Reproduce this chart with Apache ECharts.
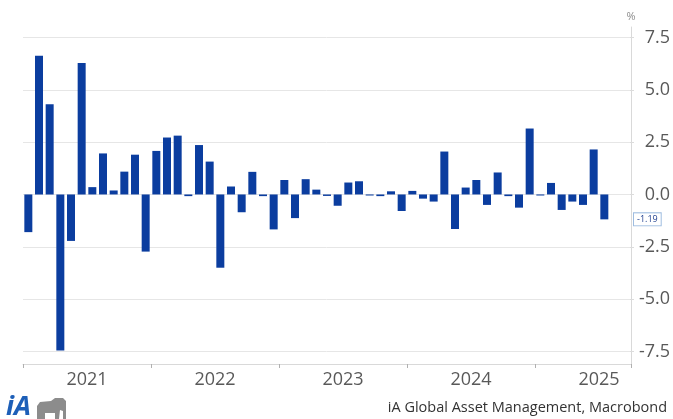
<!DOCTYPE html>
<html><head><meta charset="utf-8">
<script src="https://cdn.jsdelivr.net/npm/echarts@6/dist/echarts.min.js"></script>
<style>html,body{margin:0;padding:0;background:#fff}#c{width:673px;height:419px}</style>
</head><body><div id="c"></div>
<script>
// Monthly categories (axis runs two months past the last observation)
const months = [
  '2021-01','2021-02','2021-03','2021-04','2021-05','2021-06','2021-07','2021-08','2021-09','2021-10','2021-11','2021-12',
  '2022-01','2022-02','2022-03','2022-04','2022-05','2022-06','2022-07','2022-08','2022-09','2022-10','2022-11','2022-12',
  '2023-01','2023-02','2023-03','2023-04','2023-05','2023-06','2023-07','2023-08','2023-09','2023-10','2023-11','2023-12',
  '2024-01','2024-02','2024-03','2024-04','2024-05','2024-06','2024-07','2024-08','2024-09','2024-10','2024-11','2024-12',
  '2025-01','2025-02','2025-03','2025-04','2025-05','2025-06','2025-07','2025-08','2025-09'
];
// Monthly change, %
const values = [
  -1.80, 6.63, 4.31, -7.46, -2.22, 6.28, 0.35, 1.96, 0.19, 1.09, 1.90, -2.73,
  2.08, 2.72, 2.81, -0.08, 2.36, 1.57, -3.50, 0.38, -0.85, 1.08, -0.08, -1.67,
  0.69, -1.13, 0.73, 0.23, -0.07, -0.54, 0.57, 0.63, -0.05, -0.08, 0.15, -0.79,
  0.17, -0.20, -0.34, 2.05, -1.65, 0.33, 0.69, -0.50, 1.05, -0.08, -0.63, 3.15,
  -0.05, 0.55, -0.74, -0.34, -0.50, 2.15, -1.19
];
const yTicks = [-7.5, -5.0, -2.5, 0.0, 2.5, 5.0, 7.5];
const sourceText = 'iA Global Asset Management, Macrobond';

const FONT = '"Open Sans", "Noto Sans", sans-serif';
const chart = echarts.init(document.getElementById('c'), null, {renderer: 'canvas'});
const last = values[values.length - 1];

chart.setOption({
  animation: false,
  backgroundColor: '#ffffff',
  textStyle: {fontFamily: FONT},
  grid: [
    {left: 23, right: 42, top: 27, bottom: 55},
    {left: 23, right: 42, top: 37.5, bottom: 67.5}
  ],
  xAxis: [
    {
      type: 'category', gridIndex: 0, data: months, boundaryGap: true,
      axisLine: {show: true, onZero: false, lineStyle: {color: '#d9d9d9', width: 1}},
      axisTick: {show: true, interval: (i) => i % 12 === 0, length: 4, lineStyle: {color: '#b0b0b0'}},
      axisLabel: {
        interval: (i) => i % 12 === 6,
        formatter: (v) => v.slice(0, 4),
        fontSize: 18, color: '#595959', fontFamily: FONT, margin: 7,
        padding: [0, 10.66, 0, 0]
      },
      splitLine: {show: false}
    },
    {type: 'category', gridIndex: 1, data: months, show: false}
  ],
  yAxis: [
    {
      type: 'value', gridIndex: 0, position: 'right', min: -8.1, max: 8.0,
      name: '%', nameLocation: 'end', nameGap: 5,
      nameTextStyle: {color: '#8c8c8c', fontSize: 11, fontFamily: FONT},
      axisLine: {show: true, lineStyle: {color: '#d9d9d9'}},
      axisTick: {show: false}, axisLabel: {show: false}, splitLine: {show: false}
    },
    {
      type: 'value', gridIndex: 1, position: 'right',
      min: yTicks[0], max: yTicks[yTicks.length - 1], interval: 2.5,
      axisLine: {show: false},
      axisTick: {show: true, length: 4, lineStyle: {color: '#dcdcdc'}},
      axisLabel: {
        align: 'right', margin: 40, fontSize: 18, color: '#595959', fontFamily: FONT,
        formatter: (v) => v.toFixed(1)
      },
      splitLine: {show: true, lineStyle: {color: '#e6e6e6', width: 1}}
    }
  ],
  series: [{
    type: 'bar', xAxisIndex: 0, yAxisIndex: 0, data: values,
    barWidth: 8,
    itemStyle: {color: '#0b3d9f'},
    markLine: {
      silent: true,
      symbol: ['none', 'path://M0,0 L10,0 L5,10 Z'],
      symbolSize: [8, 5],
      lineStyle: {color: 'rgba(0,0,0,0)', width: 0},
      itemStyle: {color: '#ffffff', borderColor: '#9fbde0', borderWidth: 1},
      label: {
        show: true, position: 'end', distance: 3,
        formatter: () => last.toFixed(2),
        backgroundColor: '#ffffff', borderColor: '#9fbde0', borderWidth: 1,
        padding: [2, 3, 1, 3], color: '#1f3f8f', fontSize: 9, fontFamily: FONT
      },
      data: [{yAxis: last}]
    }
  }],
  graphic: [
    {
      type: 'text', left: 6, top: 394,
      style: {text: 'iA', font: 'italic bold 27px ' + FONT, fill: '#1d5fb8'}
    },
    {
      type: 'polygon', left: 37, top: 398,
      shape: {points: [[0,21],[0,8],[3,4],[14,3],[18,0],[26,0],[29,3],[29,21],[26,21],[26,13],[23,12],[22,21],[18,21],[18,15],[8,15],[8,21]]},
      style: {fill: '#8c8c8c'}
    },
    {
      type: 'text', right: 6, top: 400,
      style: {text: sourceText, font: '14.5px ' + FONT, fill: '#333333'}
    }
  ]
});
</script>
</body></html>
